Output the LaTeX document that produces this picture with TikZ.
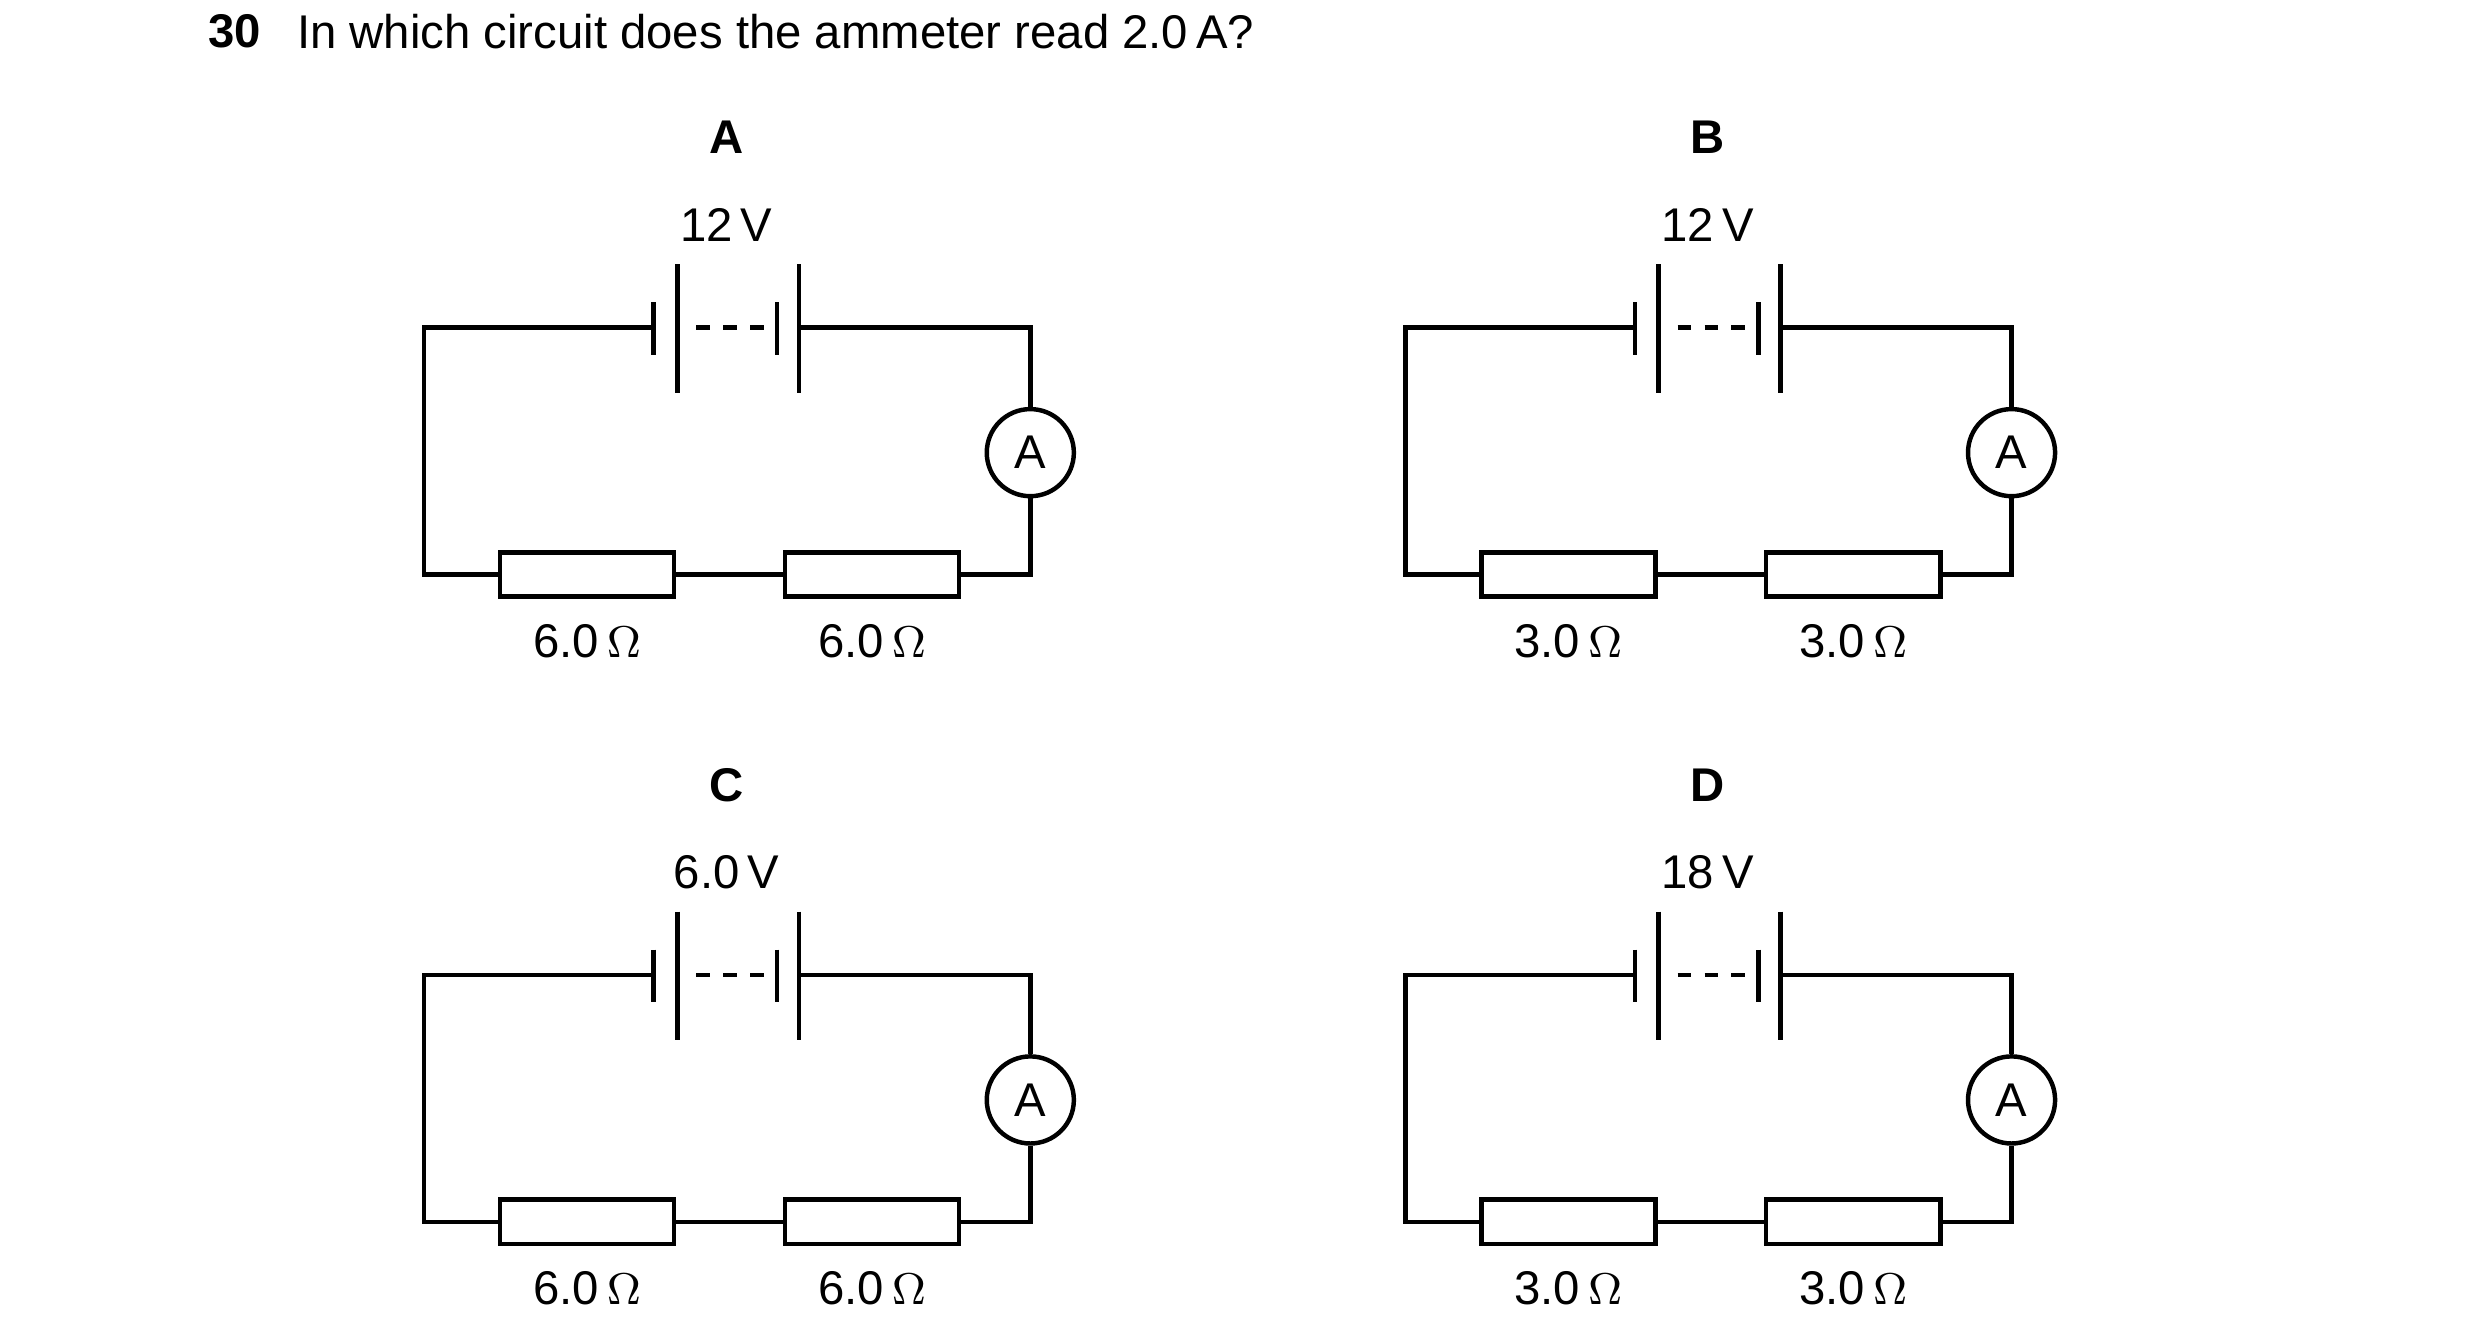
\documentclass[tikz,border=0pt]{standalone}
\usepackage{fontspec}
\setmainfont{Liberation Sans}
\tikzset{
  wire/.style={line width=0.8pt},
  resistor/.style={draw,line width=0.8pt,fill=white,minimum width=1.1cm,minimum height=0.28cm,inner sep=0pt},
  meter/.style={draw,circle,line width=0.8pt,fill=white,minimum size=0.55cm,inner sep=0pt,font=\fontsize{8.5}{10}\selectfont},
  lbl/.style={font=\fontsize{8.5}{10}\selectfont,inner sep=0pt},
}
\newcommand\drawcircuit[5]{%
\begin{scope}[shift={(#1,#2)}]
 \node[lbl,font=\fontsize{8.5}{10}\selectfont\bfseries] (#3title) at (459,87) {#3};
 \node[lbl] (#3volt) at (459,142) {#4};
 \coordinate (#3tl) at (268,207);
 \coordinate (#3tr) at (651,207);
 \coordinate (#3bl) at (268,363);
 \coordinate (#3br) at (651,363);
 \coordinate (#3c1) at (413,207);
 \coordinate (#3c2) at (505,207);
 \node[resistor] (#3r1) at (371,363) {};
 \node[resistor] (#3r2) at (551,363) {};
 \node[meter] (#3am) at (651,286) {A};
 \node[lbl] at (371,405) {#5\,$\Omega$};
 \node[lbl] at (551,405) {#5\,$\Omega$};
 % wires
 \draw[wire] (#3c1) -- (#3tl) -- (#3bl) -- (#3r1.west);
 \draw[wire] (#3r1.east) -- (#3r2.west);
 \draw[wire] (#3r2.east) -- (#3br) -- (#3am.south);
 \draw[wire] (#3am.north) -- (#3tr) -- (#3c2);
 % cells
 \draw[wire] (413,191) -- (413,224);
 \draw[wire] (428,167) -- (428,248);
 \draw[wire] (491,191) -- (491,224);
 \draw[wire] (505,167) -- (505,248);
 \draw[wire,dash pattern=on 0.085cm off 0.085cm] (440,207) -- (491,207);
\end{scope}}

\begin{document}
\begin{tikzpicture}[x=0.01cm,y=-0.01cm]
\useasboundingbox (0,0) rectangle (1567,847.9);
\node[lbl,anchor=west,font=\fontsize{8.5}{10}\selectfont\bfseries] (qnum) at (131,20) {30};
\node[lbl,anchor=west,font=\fontsize{8.5}{10}\selectfont] (qtext) at (187,20) {In which circuit does the ammeter read 2.0\,A?};
\drawcircuit{0}{0}{A}{12\,V}{6.0}
\drawcircuit{620}{0}{B}{12\,V}{3.0}
\drawcircuit{0}{409}{C}{6.0\,V}{6.0}
\drawcircuit{620}{409}{D}{18\,V}{3.0}
\end{tikzpicture}
\end{document}
